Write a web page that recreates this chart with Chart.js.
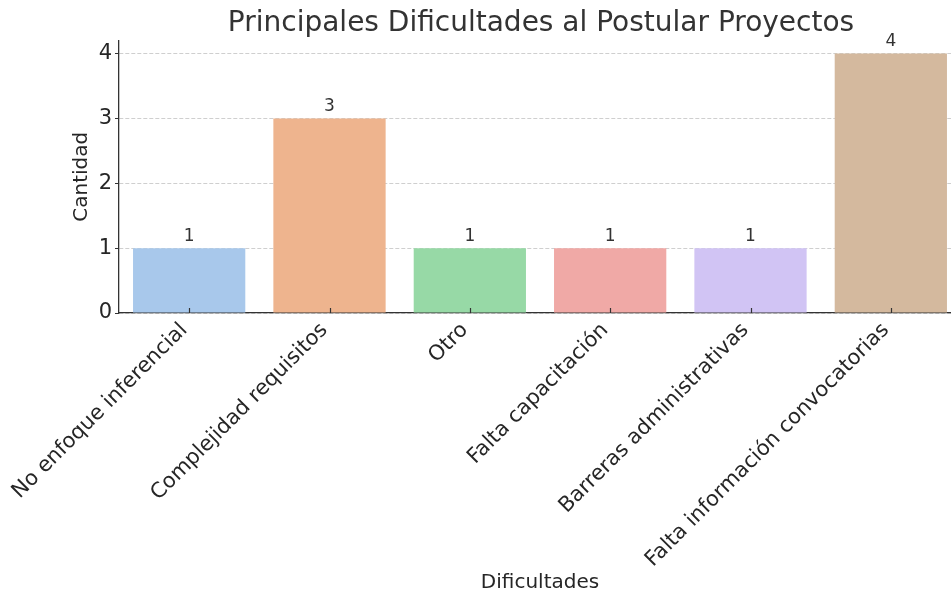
<!DOCTYPE html>
<html>
<head>
<meta charset="utf-8">
<script src="https://cdn.jsdelivr.net/npm/chart.js@4.4.0/dist/chart.umd.min.js"></script>
<style>
  html, body { margin: 0; padding: 0; background: #fff; }
  #wrap { width: 951px; height: 596px; }
</style>
</head>
<body>
<div id="wrap"><canvas id="chart" width="951" height="596"></canvas></div>
<script>
const categories = [
  "No enfoque inferencial",
  "Complejidad requisitos",
  "Otro",
  "Falta capacitación",
  "Barreras administrativas",
  "Falta información convocatorias"
];
const counts = [1, 3, 1, 1, 1, 4];
const barColors = ["#a8c8eb", "#eeb48e", "#97d9a6", "#f0a9a6", "#d1c4f4", "#d4b99e"];
const yTicks = [0, 1, 2, 3, 4];

const FONT = "'DejaVu Sans', sans-serif";
const TEXT = "#262626";

// numbers on top of each bar
const valueLabels = {
  id: "valueLabels",
  afterDatasetsDraw(chart) {
    const ctx = chart.ctx;
    const meta = chart.getDatasetMeta(0);
    ctx.save();
    ctx.font = "17px " + FONT;
    ctx.fillStyle = "#333";
    ctx.textAlign = "center";
    ctx.textBaseline = "bottom";
    meta.data.forEach((bar, i) => {
      ctx.fillText(String(counts[i]), bar.x, bar.y - 3);
    });
    ctx.restore();
  }
};

// the original figure is cut off on the right: let the plot run past the canvas edge
const widenArea = {
  id: "widenArea",
  afterLayout(chart) {
    const extra = 10;
    const xs = chart.scales.x;
    chart.chartArea.right += extra;
    xs.right += extra;
    xs.width += extra;
    xs.configure();
    // keep the title centred over the (wider) plot
    if (chart.titleBlock) {
      chart.titleBlock.right += 12;
      chart.titleBlock.width += 12;
    }
  }
};

// small inward ticks on the x axis, like matplotlib
const innerTicks = {
  id: "innerTicks",
  afterDraw(chart) {
    const ctx = chart.ctx;
    const xs = chart.scales.x;
    const bottom = chart.chartArea.bottom;
    ctx.save();
    ctx.strokeStyle = "#333";
    ctx.lineWidth = 1.2;
    xs.ticks.forEach((t, i) => {
      const px = Math.round(xs.getPixelForTick(i)) + 0.5;
      ctx.beginPath();
      ctx.moveTo(px, bottom);
      ctx.lineTo(px, bottom - 5);
      ctx.stroke();
    });
    ctx.restore();
  }
};

new Chart(document.getElementById("chart"), {
  type: "bar",
  data: {
    labels: categories,
    datasets: [{
      data: counts,
      backgroundColor: barColors,
      borderWidth: 0,
      categoryPercentage: 1.0,
      barPercentage: 0.8
    }]
  },
  options: {
    responsive: false,
    animation: false,
    layout: { padding: { left: 0, right: 0, top: 0, bottom: 0 } },
    plugins: {
      legend: { display: false },
      tooltip: { enabled: false },
      title: {
        display: true,
        text: "Principales Dificultades al Postular Proyectos",
        fullSize: false,
        color: "#333",
        font: { family: FONT, size: 28, weight: "normal" },
        padding: { top: 7, bottom: 0 }
      }
    },
    scales: {
      x: {
        offset: true,
        grid: { display: false, drawTicks: false },
        border: { display: true, color: "#333", width: 1.3 },
        ticks: {
          color: TEXT,
          font: { family: FONT, size: 21 },
          minRotation: 45,
          maxRotation: 45,
          autoSkip: false,
          padding: 5,
          labelOffset: -5
        },
        title: {
          display: true,
          text: "Dificultades",
          color: TEXT,
          font: { family: FONT, size: 20 },
          padding: { top: 4, bottom: 1 }
        },
        afterFit(s) { s.height = 283; }
      },
      y: {
        min: 0,
        max: 4.2,
        afterBuildTicks(s) {
          s.ticks = yTicks.map(v => ({ value: v }));
        },
        grid: {
          color: "#cfcfcf",
          lineWidth: 1,
          tickColor: "#333",
          tickLength: 4,
          tickBorderDash: [],
          drawTicks: true
        },
        border: { display: true, color: "#333", width: 1.3, dash: [4, 2] },
        ticks: {
          color: TEXT,
          font: { family: FONT, size: 21 },
          padding: 3
        },
        title: {
          display: true,
          text: "Cantidad",
          color: TEXT,
          font: { family: FONT, size: 20 },
          padding: { top: 70, bottom: 0 }
        },
        afterFit(s) { s.width = 119; }
      }
    }
  },
  plugins: [widenArea, valueLabels, innerTicks]
});
</script>
</body>
</html>
